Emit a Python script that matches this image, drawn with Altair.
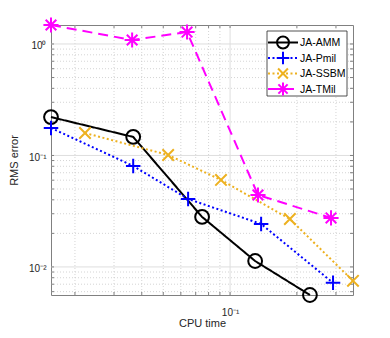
import altair as alt
import pandas as pd

# ---------------- data ----------------
series_names = ["JA-AMM", "JA-Pmil", "JA-SSBM", "JA-TMil"]

amm_x = [0.0156, 0.0366, 0.0748, 0.1297, 0.229]
amm_y = [0.221, 0.1466, 0.0281, 0.0113, 0.0056]

pmil_x = [0.0156, 0.0366, 0.0647, 0.138, 0.291]
pmil_y = [0.1765, 0.0805, 0.0407, 0.0243, 0.0072]

ssbm_x = [0.0222, 0.0526, 0.091, 0.186, 0.358]
ssbm_y = [0.159, 0.101, 0.0603, 0.0269, 0.0075]

tmil_x = [0.0156, 0.0362, 0.064, 0.1336, 0.285]
tmil_y = [1.48, 1.086, 1.28, 0.0442, 0.0275]

x_major = [0.1]
x_minor = [0.02, 0.03, 0.04, 0.05, 0.06, 0.07, 0.08, 0.09, 0.2, 0.3]
y_major = [0.01, 0.1, 1.0]
y_minor = [0.006, 0.007, 0.008, 0.009,
           0.02, 0.03, 0.04, 0.05, 0.06, 0.07, 0.08, 0.09,
           0.2, 0.3, 0.4, 0.5, 0.6, 0.7, 0.8, 0.9]

x_domain = [0.0156, 0.358]
y_domain = [0.0056, 1.48]

# ---------------- styles ----------------
colors = ["#000000", "#0000FF", "#EDB120", "#FF00FF"]
dashes = [[1, 0], [2, 2.5], [2, 2.5], [10, 6]]
PLUS = "M-1,0L1,0M0,-1L0,1"
XCROSS = "M-1,-1L1,1M-1,1L1,-1"
STAR = "M-1,0L1,0M0,-1L0,1M-0.7,-0.7L0.7,0.7M-0.7,0.7L0.7,-0.7"
shapes = ["circle", PLUS, XCROSS, STAR]
sizes = [190, 210, 130, 230]
FONT = "Liberation Sans"
TXT = "#262626"
AX = "#808080"

W, H = 302, 270

xs = alt.Scale(type="log", domain=x_domain, nice=False)
ys = alt.Scale(type="log", domain=y_domain, nice=False)

xaxis = alt.Axis(values=x_major, labelExpr="'10⁻¹'", ticks=False, grid=False,
                 domain=False, labelFontSize=10, labelPadding=12, labelColor=TXT,
                 labelFont=FONT, title="CPU time", titleFont=FONT, titleFontSize=11,
                 titleFontWeight="normal", titleColor=TXT, titleY=31,
                 titleBaseline="alphabetic")
yaxis = alt.Axis(values=y_major,
                 labelExpr="datum.value >= 0.5 ? '10⁰' : (datum.value >= 0.05 ? '10⁻¹' : '10⁻²')",
                 ticks=False, grid=False, domain=False, labelFontSize=10, labelPadding=5,
                 labelColor=TXT, labelFont=FONT, labelOffset=2, title="RMS error",
                 titleFont=FONT, titleFontSize=11, titleFontWeight="normal",
                 titleColor=TXT, titleX=-34, titleY=H / 2, titleAngle=-90,
                 titleBaseline="alphabetic", titleAlign="center")

X = alt.X("x:Q", scale=xs, axis=xaxis)
Y = alt.Y("y:Q", scale=ys, axis=yaxis)

df_xmaj = pd.DataFrame({"x": x_major})
df_xmin = pd.DataFrame({"x": x_minor})
df_ymaj = pd.DataFrame({"y": y_major})
df_ymin = pd.DataFrame({"y": y_minor})
df_xt = pd.DataFrame({"x": x_major + x_minor})
df_yt = pd.DataFrame({"y": y_major + y_minor})

layers = []
# grid
layers.append(alt.Chart(df_xmin).mark_rule(color="#c9c9c9", strokeWidth=0.8, strokeDash=[1, 2])
              .encode(x=X, y=alt.value(0), y2=alt.value(H)))
layers.append(alt.Chart(df_ymin).mark_rule(color="#c9c9c9", strokeWidth=0.8, strokeDash=[1, 2])
              .encode(y=Y, x=alt.value(0), x2=alt.value(W)))
layers.append(alt.Chart(df_xmaj).mark_rule(color="#dedede", strokeWidth=1)
              .encode(x=X, y=alt.value(0), y2=alt.value(H)))
layers.append(alt.Chart(df_ymaj).mark_rule(color="#dedede", strokeWidth=1)
              .encode(y=Y, x=alt.value(0), x2=alt.value(W)))
# inward ticks on all four sides
TL = 3
layers.append(alt.Chart(df_xt).mark_rule(color=AX, strokeWidth=1)
              .encode(x=X, y=alt.value(H), y2=alt.value(H - TL)))
layers.append(alt.Chart(df_xt).mark_rule(color=AX, strokeWidth=1)
              .encode(x=X, y=alt.value(0), y2=alt.value(TL)))
layers.append(alt.Chart(df_yt).mark_rule(color=AX, strokeWidth=1)
              .encode(y=Y, x=alt.value(0), x2=alt.value(TL)))
layers.append(alt.Chart(df_yt).mark_rule(color=AX, strokeWidth=1)
              .encode(y=Y, x=alt.value(W), x2=alt.value(W - TL)))

# series
series_x = [amm_x, pmil_x, ssbm_x, tmil_x]
series_y = [amm_y, pmil_y, ssbm_y, tmil_y]
for i, name in enumerate(series_names):
    d = pd.DataFrame({"x": series_x[i], "y": series_y[i]})
    layers.append(alt.Chart(d).mark_line(color=colors[i], strokeWidth=2,
                                         strokeDash=dashes[i], strokeCap="butt", clip=False)
                  .encode(x=X, y=Y, order=alt.Order("x:Q")))
    layers.append(alt.Chart(d).mark_point(shape=shapes[i], size=sizes[i], filled=False,
                                          color=colors[i], strokeWidth=2, opacity=1, clip=False)
                  .encode(x=X, y=Y))

# legend (annotation)
leg_df = pd.DataFrame({"name": series_names})
layers.append(alt.Chart(leg_df.head(1)).mark_rect(fill="white", stroke=TXT, strokeWidth=0.8)
              .encode(x=alt.value(216), x2=alt.value(296), y=alt.value(6), y2=alt.value(71)))
row_y = [17.5, 33, 48.5, 64]
for i, name in enumerate(series_names):
    src = alt.Chart(leg_df).transform_filter(alt.datum.name == name)
    layers.append(src.mark_rule(color=colors[i], strokeWidth=2, strokeDash=dashes[i], strokeCap="butt")
                  .encode(x=alt.value(217), x2=alt.value(247), y=alt.value(row_y[i])))
    layers.append(src.mark_point(shape=shapes[i], size=sizes[i] * 0.75, filled=False,
                                 color=colors[i], strokeWidth=2, opacity=1)
                  .encode(x=alt.value(232), y=alt.value(row_y[i])))
    layers.append(src.mark_text(align="left", baseline="middle", font=FONT, fontSize=10.5,
                                color="#000000")
                  .encode(x=alt.value(249), y=alt.value(row_y[i] + 0.5), text="name:N"))

chart = alt.layer(*layers).properties(
    width=W, height=H,
    padding={"left": 43, "top": 17, "right": 29, "bottom": 35},
    autosize=alt.AutoSizeParams(type="none"),
    background="white",
).configure_view(stroke=AX, strokeWidth=1)

chart.save("out.html", embed_options={"renderer": "svg", "actions": False})
